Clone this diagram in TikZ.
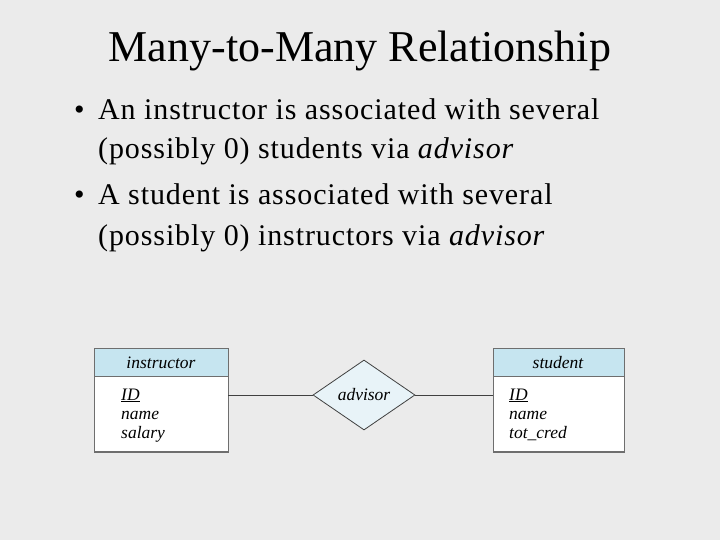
\documentclass[tikz,border=0pt]{standalone}
\usepackage{fontspec}
\setmainfont{Liberation Serif}
\newfontfamily\bodyfont[LetterSpace=3]{Liberation Serif}
\usetikzlibrary{shapes.geometric}
\definecolor{bg}{RGB}{235,235,235}
\definecolor{hdr}{RGB}{198,229,240}
\definecolor{dia}{RGB}{232,243,248}
\definecolor{edge}{RGB}{110,110,110}
\tikzset{
  titletext/.style={inner sep=0pt, anchor=base, font=\fontsize{44}{48}\selectfont},
  bodytext/.style={inner sep=0pt, anchor=base west, font=\bodyfont\fontsize{30}{34}\selectfont},
  attr/.style={inner sep=0pt, anchor=base west, font=\itshape\fontsize{17.5}{19}\selectfont},
  hdrtext/.style={inner sep=0pt, anchor=base, font=\itshape\fontsize{17.5}{19}\selectfont},
  boxline/.style={draw=edge, line width=0.8pt},
  conn/.style={draw=black!75, line width=0.8pt}
}
\begin{document}
\begin{tikzpicture}[x=1pt,y=-1pt]
\fill[bg] (0,0) rectangle (720,540);
\useasboundingbox (0,0) rectangle (720,540);
\node[titletext] (title) at (360,62) {Many-to-Many Relationship};
\node[bodytext] (b1) at (74,120) {\textbullet};
\node[bodytext] (l1) at (98,120) {An instructor is associated with several};
\node[bodytext] (l2) at (98,159) {(possibly 0) students via \textit{advisor}};
\node[bodytext] (b2) at (74,205) {\textbullet};
\node[bodytext] (l3) at (98,205) {A student is associated with several};
\node[bodytext] (l4) at (98,245) {(possibly 0) instructors via \textit{advisor}};
% instructor entity
\fill[hdr] (94,348) rectangle (228,376);
\fill[white] (94,376) rectangle (228,452);
\draw[boxline] (94,348) rectangle (228,452);
\draw[boxline] (94,376) -- (228,376);
\draw[edge, line width=1.4pt] (94,452) -- (228,452);
\node[hdrtext] (inst) at (161,368) {instructor};
\node[attr] (iid) at (121,400) {\underline{ID}};
\node[attr] (iname) at (121,419) {name};
\node[attr] (isal) at (121,438) {salary};
\coordinate (instR) at (228,395);
% student entity
\fill[hdr] (493,348) rectangle (624,376);
\fill[white] (493,376) rectangle (624,452);
\draw[boxline] (493,348) rectangle (624,452);
\draw[boxline] (493,376) -- (624,376);
\draw[edge, line width=1.4pt] (493,452) -- (624,452);
\node[hdrtext] (stu) at (558,368) {student};
\node[attr] (sid) at (509,400) {\underline{ID}};
\node[attr] (sname) at (509,419) {name};
\node[attr] (scred) at (509,438) {tot\_cred};
\coordinate (stuL) at (493,395);
% relationship
\node[diamond, draw=black!75, fill=dia, line width=0.8pt, minimum width=102pt, minimum height=70pt, inner sep=0pt, aspect=1.45, font=\itshape\fontsize{17.5}{19}\selectfont] (adv) at (364,395) {advisor};
\draw[conn] (instR) -- (adv.west);
\draw[conn] (adv.east) -- (stuL);
\end{tikzpicture}
\end{document}
